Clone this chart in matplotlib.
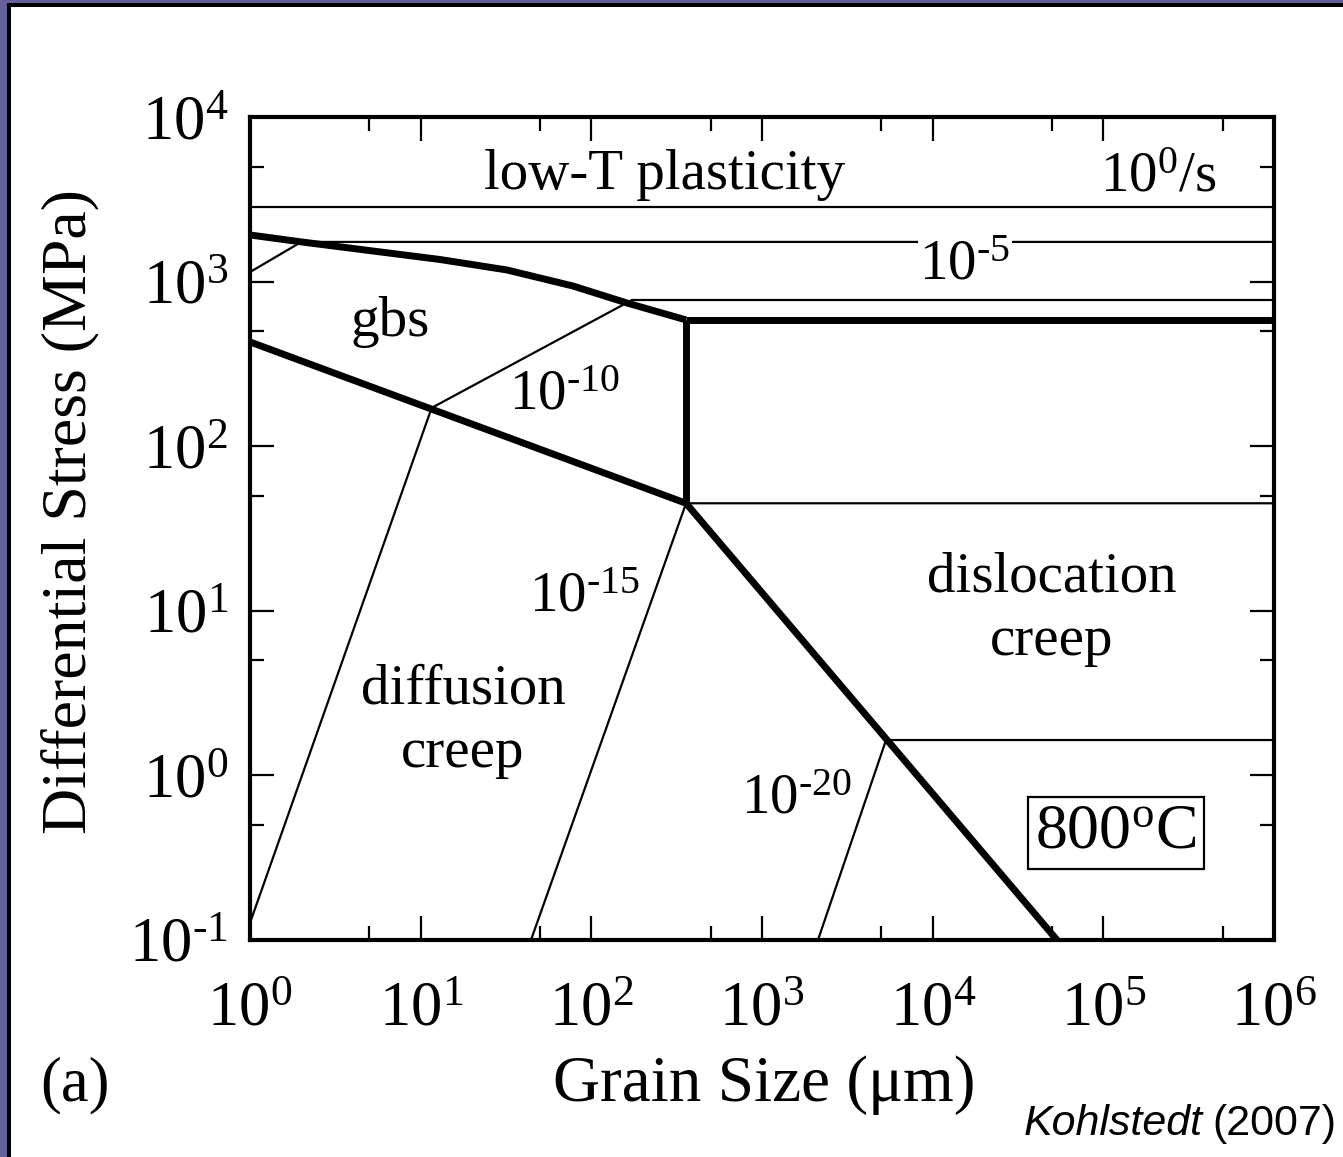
import numpy as np
import matplotlib
matplotlib.use("Agg")
import matplotlib.pyplot as plt
from matplotlib.patches import Rectangle
from matplotlib.ticker import FixedLocator, FuncFormatter, NullFormatter

plt.rcParams["font.family"] = ["Liberation Serif", "DejaVu Serif"]
plt.rcParams["mathtext.fontset"] = "custom"
plt.rcParams["mathtext.rm"] = "Liberation Serif"
plt.rcParams["mathtext.it"] = "Liberation Serif:italic"

# ---- deformation-mechanism boundaries (grain size in um, stress in MPa) ----
gbs_upper_d = [1.0, 2.0, 13.0, 32.1, 78.1, 162.0, 359.0]
gbs_upper_s = [1920.0, 1742.0, 1362.0, 1176.0, 940.0, 741.0, 585.0]

gbs_lower_d = [1.0, 359.0]
gbs_lower_s = [430.0, 45.0]

disl_diff_d = [359.0, 53500.0]
disl_diff_s = [45.0, 0.1]

lowT_vert_d = [359.0, 359.0]
lowT_vert_s = [45.0, 585.0]

lowT_horiz_d = [359.0, 1e6]
lowT_horiz_s = [585.0, 585.0]

# ---- strain-rate contours (1/s) ----
rate_0_d = [1.0, 1e6]
rate_0_s = [2838.0, 2838.0]

rate_5_d = [1.0, 2.0, 1e6]
rate_5_s = [1143.0, 1742.0, 1742.0]

rate_10_d = [1.0, 11.6, 173.0, 1e6]
rate_10_s = [0.127, 171.0, 773.0, 773.0]

rate_15_d = [44.3, 359.0, 1e6]
rate_15_s = [0.1, 45.0, 45.0]

rate_20_d = [2128.0, 5330.0, 1e6]
rate_20_s = [0.1, 1.64, 1.64]

x_major = [1e0, 1e1, 1e2, 1e3, 1e4, 1e5, 1e6]
x_minor = [5e0, 5e1, 5e2, 5e3, 5e4, 5e5]
y_major = [1e-1, 1e0, 1e1, 1e2, 1e3, 1e4]
y_minor = [5e-1, 5e0, 5e1, 5e2, 5e3]

W, H = 1343, 1157
fig = plt.figure(figsize=(W / 100, H / 100), dpi=100)
fig.patch.set_facecolor("white")

# slide-style frame on the left and top edges
frame_col = "#63609c"
fig.patches.append(Rectangle((0, 0), 7 / W, 1, transform=fig.transFigure,
                             facecolor=frame_col, edgecolor="none", zorder=0))
fig.patches.append(Rectangle((7 / W, 0), 4 / W, 1 - 3 / H, transform=fig.transFigure,
                             facecolor="black", edgecolor="none", zorder=0))
fig.patches.append(Rectangle((0, 1 - 3 / H), 1, 3 / H, transform=fig.transFigure,
                             facecolor=frame_col, edgecolor="none", zorder=0))
fig.patches.append(Rectangle((7 / W, 1 - 7 / H), 1, 4 / H, transform=fig.transFigure,
                             facecolor="black", edgecolor="none", zorder=0))

left, right, top, bottom = 250, 1274, 117, 940
ax = fig.add_axes([left / W, 1 - bottom / H, (right - left) / W, (bottom - top) / H])
ax.set_xscale("log")
ax.set_yscale("log")
ax.set_xlim(1, 1e6)
ax.set_ylim(0.1, 1e4)


def at(px, py):
    """Axes-fraction position of a pixel location inside the frame."""
    return (px - left) / (right - left), (bottom - py) / (bottom - top)


def power(exp_text):
    """Power-of-ten label with a short hyphen for negative exponents."""
    return r"$\mathregular{10^{%s}}$" % exp_text.replace("-", r"\text{-}")


thin = dict(color="black", lw=1.6, solid_capstyle="butt", solid_joinstyle="miter")
thick = dict(color="black", lw=5.0, solid_capstyle="butt", solid_joinstyle="round")

for d, s in [(rate_0_d, rate_0_s), (rate_5_d, rate_5_s), (rate_10_d, rate_10_s),
             (rate_15_d, rate_15_s), (rate_20_d, rate_20_s)]:
    ax.plot(d, s, **thin)

for d, s in [(gbs_upper_d, gbs_upper_s), (gbs_lower_d, gbs_lower_s),
             (disl_diff_d, disl_diff_s), (lowT_vert_d, lowT_vert_s),
             (lowT_horiz_d, lowT_horiz_s)]:
    ax.plot(d, s, **thick)

for sp in ax.spines.values():
    sp.set_linewidth(3.0)

ax.xaxis.set_major_locator(FixedLocator(x_major))
ax.xaxis.set_minor_locator(FixedLocator(x_minor))
ax.yaxis.set_major_locator(FixedLocator(y_major))
ax.yaxis.set_minor_locator(FixedLocator(y_minor))
fmt = FuncFormatter(lambda v, _: power("%d" % round(np.log10(v))))
ax.xaxis.set_major_formatter(fmt)
ax.yaxis.set_major_formatter(fmt)
ax.xaxis.set_minor_formatter(NullFormatter())
ax.yaxis.set_minor_formatter(NullFormatter())
ax.tick_params(which="both", direction="in", top=True, right=True, width=1.6)
ax.tick_params(which="major", length=17, labelsize=45)
ax.tick_params(which="minor", length=10)
ax.tick_params(axis="x", which="major", pad=30)
ax.tick_params(axis="y", which="major", pad=16)

ax.set_xlabel("Grain Size (\u03bcm)", fontsize=47, va="center")
ax.xaxis.set_label_coords(*at(764, 1085))
ax.set_ylabel("Differential Stress (MPa)", fontsize=46, va="center")
ax.yaxis.set_label_coords(*at(70, 512))

fs = 41
ax.text(*at(665, 175), "low-T plasticity", transform=ax.transAxes, fontsize=fs,
        ha="center", va="center")
ax.text(*at(1158, 178), power("0") + "/s", transform=ax.transAxes,
        fontsize=fs, ha="center", va="center")
ax.text(*at(965, 265), power("-5"), transform=ax.transAxes,
        fontsize=fs, ha="center", va="center",
        bbox=dict(facecolor="white", edgecolor="none", pad=1))
ax.text(*at(390, 322), "gbs", transform=ax.transAxes, fontsize=fs,
        ha="center", va="center")
ax.text(*at(565, 395), power("-10"), transform=ax.transAxes,
        fontsize=fs, ha="center", va="center")
ax.text(*at(585, 598), power("-15"), transform=ax.transAxes,
        fontsize=fs, ha="center", va="center")
ax.text(*at(797, 799), power("-20"), transform=ax.transAxes,
        fontsize=fs, ha="center", va="center")
ax.text(*at(463, 721), "diffusion\ncreep", transform=ax.transAxes, fontsize=fs,
        ha="center", va="center", linespacing=1.3)
ax.text(*at(1052, 609), "dislocation\ncreep", transform=ax.transAxes, fontsize=fs,
        ha="center", va="center", linespacing=1.3)
ax.text(*at(1116, 833), r"800$\mathregular{^{o}}$C", transform=ax.transAxes,
        fontsize=46, ha="center", va="center",
        bbox=dict(facecolor="white", edgecolor="black", lw=1.6, pad=5))

fig.text(75 / W, 1 - 1085 / H, "(a)", fontsize=45, ha="center", va="center")

yr = fig.text(1336 / W, 1 - 1124 / H, "(2007)", fontsize=31, ha="right",
              va="center", family="Liberation Sans")
fig.canvas.draw()
bb = yr.get_window_extent(renderer=fig.canvas.get_renderer())
fig.text((bb.x0 - 9) / W, 1 - 1124 / H, "Kohlstedt", fontsize=31, ha="right",
         va="center", family="Liberation Sans", style="italic")

fig.savefig("out.png", dpi=100, facecolor="white")
